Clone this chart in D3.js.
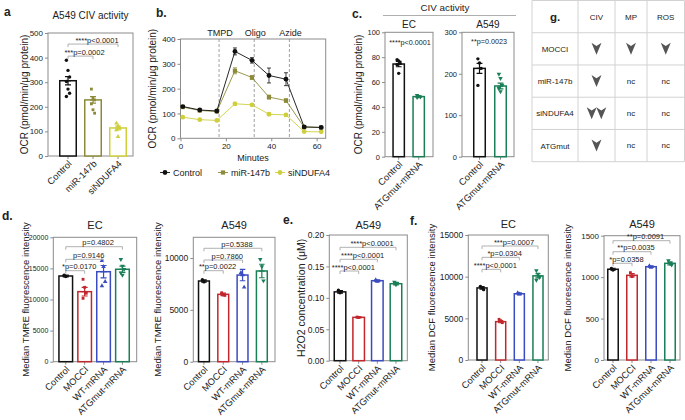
<!DOCTYPE html>
<html>
<head>
<meta charset="utf-8">
<script src="https://cdn.jsdelivr.net/npm/d3@7"></script>
<style>
  body { margin: 0; background: #fff; }
  svg text { font-family: "Liberation Sans", Arial, sans-serif; fill: #222; }
</style>
</head>
<body>
<script>
// ---- a: A549 CIV activity
const aGroups = ["Control", "miR-147b", "siNDUFA4"];
const aMeans = [306, 228, 114];
const aSem = [17, 13, 8];
const aPoints = [[389, 348, 321, 303, 272, 255, 242], [272, 235, 228, 212, 188, 174], [133, 122, 114, 106, 79]];
const aTests = [["Control", "miR-147b", "***p=0.0002"], ["Control", "siNDUFA4", "****p<0.0001"]];

// ---- b: OCR trace
const bMinutes = [1, 8.5, 16, 24, 31.5, 39, 46.5, 54.5, 62];
const bSeries = ["Control", "miR-147b", "siNDUFA4"];
const bControl = [128, 114, 110, 350, 314, 253, 238, 46, 44];
const bControlSem = [4, 3, 4, 14, 11, 30, 26, 4, 3];
const bMir = [126, 112, 108, 272, 245, 166, 152, 45, 43];
const bMirSem = [3, 3, 3, 12, 8, 8, 7, 3, 3];
const bSi = [85, 75, 72, 139, 135, 97, 94, 27, 26];
const bSiSem = [3, 2, 2, 6, 5, 6, 6, 2, 2];
const bInjections = [["TMPD", 17], ["Oligo", 32.5], ["Azide", 48]];

// ---- c: CIV activity, ATGmut
const cGroups = ["Control", "ATGmut-mRNA"];
const cEcMeans = [74.5, 48.3];
const cEcSem = [2.2, 0.6];
const cEcPoints = [[78, 77, 75, 74, 67], [49.3, 48.6, 48, 47.6]];
const cEcTest = "****p<0.0001";
const cA549Means = [213, 170.5];
const cA549Sem = [12, 7];
const cA549Points = [[236, 226, 213, 172], [199, 189, 173, 165, 157]];
const cA549Test = "**p=0.0023";

// ---- d/e/f shared groups
const treatGroups = ["Control", "MOCCI", "WT-mRNA", "ATGmut-mRNA"];

// d: TMRE
const dEcMeans = [13780, 11260, 14470, 14860];
const dEcSem = [150, 700, 1000, 500];
const dEcPoints = [[13900, 13700], [13250, 11960, 11000, 10190], [16240, 15270, 12860, 12170], [16460, 15380, 14860, 14310, 13940]];
const dEcTests = [["Control", "MOCCI", "*p=0.0170"], ["Control", "WT-mRNA", "p=0.9146"], ["Control", "ATGmut-mRNA", "p=0.4802"]];
const dA549Means = [7785, 6500, 8360, 8750];
const dA549Sem = [120, 120, 550, 650];
const dA549Points = [[7900, 7700], [6650, 6450, 6400], [8585, 8360, 7180], [9880, 9170, 7810]];
const dA549Tests = [["Control", "MOCCI", "**p=0.0022"], ["Control", "WT-mRNA", "p=0.7860"], ["Control", "ATGmut-mRNA", "p=0.5388"]];

// e: H2O2
const eMeans = [0.1095, 0.0690, 0.1273, 0.1225];
const eSem = [0.002, 0.0008, 0.0015, 0.002];
const ePoints = [[0.112, 0.108], [0.0695, 0.0688], [0.1285, 0.126], [0.125, 0.121]];
const eTests = [["Control", "MOCCI", "****p<0.0001"], ["Control", "WT-mRNA", "****p<0.0001"], ["Control", "ATGmut-mRNA", "****p<0.0001"]];

// f: DCF
const fEcMeans = [8650, 4600, 7950, 10100];
const fEcSem = [150, 130, 120, 250];
const fEcPoints = [[8840, 8680, 8440], [4880, 4720, 4480], [8050, 7900], [10720, 10320, 9920, 9600]];
const fEcTests = [["Control", "MOCCI", "****p<0.0001"], ["Control", "WT-mRNA", "*p=0.0304"], ["Control", "ATGmut-mRNA", "***p=0.0007"]];
const fA549Means = [1095, 1022, 1126, 1167];
const fA549Sem = [12, 20, 10, 18];
const fA549Points = [[1105, 1085], [1054, 1006], [1135, 1118], [1199, 1167, 1147]];
const fA549Tests = [["Control", "MOCCI", "*p=0.0358"], ["Control", "WT-mRNA", "**p=0.0035"], ["Control", "ATGmut-mRNA", "**p=0.0091"]];

// ---- g: summary table
const gCols = ["CIV", "MP", "ROS"];
const gRows = ["MOCCI", "miR-147b", "siNDUFA4", "ATGmut"];
const gCells = [["down", "down", "down"], ["down", "nc", "nc"], ["down2", "nc", "nc"], ["down", "nc", "nc"]];

const colCtrl = "#111", colMir = "#8d8b3a", colSi = "#cfcf3e";
const colMocci = "#c1272d", colWt = "#3b4cc0", colAtg = "#1a7f57";
const axisCol = "#8c8c8c";

const svg = d3.select("body").append("svg")
    .attr("width", 685)
    .attr("height", 420);

const shapes = {
    circle: d3.symbol().type(d3.symbolCircle).size(9)(),
    square: d3.symbol().type(d3.symbolSquare).size(8)(),
    tri: d3.symbol().type(d3.symbolTriangle).size(9)(),
};

function label(x, y, txt, size, opts = {}) {
    return svg.append("text")
        .attr("x", x).attr("y", y)
        .attr("text-anchor", opts.anchor || "middle")
        .style("font-size", size + "px")
        .style("font-weight", opts.bold ? "bold" : "normal")
        .text(txt);
}

function yLabel(x, yc, txt, size) {
    svg.append("text")
        .attr("transform", `translate(${x},${yc}) rotate(-90)`)
        .attr("text-anchor", "middle")
        .attr("dy", "0.35em")
        .style("font-size", (size || 9.5) + "px")
        .text(txt);
}

function barPanel(p) {
    const g = svg.append("g");
    const y = d3.scaleLinear().domain(p.domain).range([p.bottom, p.top]);
    const x = d3.scaleBand().domain(p.groups).range(p.band)
        .paddingInner(p.pad).paddingOuter(p.pad / 2);
    const bw = x.bandwidth();
    const cx = k => x(k) + bw / 2;

    g.append("rect")
        .attr("x", p.left).attr("y", p.top)
        .attr("width", p.right - p.left).attr("height", p.bottom - p.top)
        .attr("fill", "none").attr("stroke", axisCol);

    const yAxis = g.append("g")
        .attr("transform", `translate(${p.left},0)`)
        .call(d3.axisLeft(y).tickValues(p.ticks).tickSize(3).tickPadding(2)
            .tickFormat(p.fmt || d3.format("d")));
    const xAxis = g.append("g")
        .attr("transform", `translate(0,${p.bottom})`)
        .call(d3.axisBottom(x).tickSize(3));
    xAxis.selectAll("text")
        .attr("x", 0).attr("y", 0).attr("dy", "0.35em")
        .attr("transform", "translate(2,6) rotate(-45)")
        .style("text-anchor", "end")
        .style("font-size", "9.3px");
    yAxis.selectAll("text").style("font-size", (p.tickFont || 7.5) + "px");
    [xAxis, yAxis].forEach(a => {
        a.select(".domain").remove();
        a.selectAll("line").attr("stroke", axisCol);
    });

    const rows = p.groups.map((k, i) => ({
        k, m: p.means[i], s: p.sem[i], pts: p.points[i], c: p.colors[i], sh: p.shapes[i]
    }));

    g.selectAll(".bar").data(rows).join("rect")
        .attr("x", d => cx(d.k) - bw / 2 + 0.75)
        .attr("y", d => y(d.m))
        .attr("width", bw - 1.5)
        .attr("height", d => p.bottom - y(d.m))
        .attr("fill", "white")
        .attr("stroke", d => d.c)
        .attr("stroke-width", 1.5);

    rows.forEach(d => {
        const xc = cx(d.k);
        g.selectAll(null).data(d.pts).join("path")
            .attr("d", shapes[d.sh === "down" ? "tri" : d.sh])
            .attr("transform", (v, i) => `translate(${xc + ((i % 3) - 1) * 1.6},${y(v)})` + (d.sh === "down" ? " rotate(180)" : ""))
            .attr("fill", d.c);
        const cap = Math.min(bw * 0.45, 6);
        g.append("path")
            .attr("d", `M${xc},${y(d.m - d.s)}V${y(d.m + d.s)}M${xc - cap / 2},${y(d.m + d.s)}H${xc + cap / 2}M${xc - cap / 2},${y(d.m - d.s)}H${xc + cap / 2}`)
            .attr("stroke", d.c).attr("stroke-width", 1.2).attr("fill", "none");
        g.append("path")
            .attr("d", `M${xc - cap / 2},${y(d.m)}H${xc + cap / 2}`)
            .attr("stroke", d.c).attr("stroke-width", 1.2);
    });

    (p.tests || []).forEach((t, i) => {
        const x1 = cx(t[0]), x2 = cx(t[1]), yy = y(p.levels[i]);
        g.append("path")
            .attr("d", `M${x1},${yy + 3}V${yy}H${x2}V${yy + 3}`)
            .attr("fill", "none").attr("stroke", "#a8a8a8").attr("stroke-width", 0.9);
        g.append("text")
            .attr("x", (x1 + x2) / 2 + 4).attr("y", yy - 1.5)
            .attr("text-anchor", "middle")
            .style("font-size", (p.testFont || 7.5) + "px")
            .text(t[2]);
    });

    if (p.note) {
        g.append("text")
            .attr("x", (p.left + p.right) / 2 + 1).attr("y", y(p.noteLevel))
            .attr("text-anchor", "middle")
            .style("font-size", "7.2px")
            .text(p.note);
    }

    if (p.title) label((p.left + p.right) / 2, p.titleY, p.title, p.titleSize || 11);
    if (p.ylabel) yLabel(p.ylabelX, (p.top + p.bottom) / 2, p.ylabel, p.ylabelSize);
}

// ===== panel a
label(4, 16, "a", 12, { anchor: "start", bold: true });
barPanel({
    groups: aGroups, means: aMeans, sem: aSem, points: aPoints,
    colors: [colCtrl, colMir, colSi], shapes: ["circle", "square", "tri"],
    left: 48, right: 133, top: 33, bottom: 156, band: [55.5, 130.5], pad: 0.28,
    domain: [0, 500], ticks: [0, 100, 200, 300, 400, 500], tickFont: 8,
    tests: aTests, levels: [406, 455],
    title: "A549 CIV activity", titleY: 19, titleSize: 10,
    ylabel: "OCR (pmol/min/μg protein)", ylabelX: 24, ylabelSize: 10
});

// ===== panel b
label(156, 17, "b.", 12, { anchor: "start", bold: true });
{
    const left = 180.5, right = 325.7, top = 39, bottom = 138.3;
    const x = d3.scaleLinear().domain([0, 64]).range([left, right]);
    const y = d3.scaleLinear().domain([0, 400]).range([bottom, top]);
    const g = svg.append("g");
    g.append("rect").attr("x", left).attr("y", top)
        .attr("width", right - left).attr("height", bottom - top)
        .attr("fill", "none").attr("stroke", axisCol);
    const xa = g.append("g").attr("transform", `translate(0,${bottom})`)
        .call(d3.axisBottom(x).tickValues([0, 20, 40, 60]).tickSize(3).tickPadding(2));
    const ya = g.append("g").attr("transform", `translate(${left},0)`)
        .call(d3.axisLeft(y).tickValues([0, 100, 200, 300, 400]).tickSize(3).tickPadding(2));
    [xa, ya].forEach(a => {
        a.select(".domain").remove();
        a.selectAll("line").attr("stroke", axisCol);
        a.selectAll("text").style("font-size", "8px");
    });

    bInjections.forEach(([name, t]) => {
        g.append("line").attr("x1", x(t)).attr("x2", x(t)).attr("y1", top).attr("y2", bottom)
            .attr("stroke", "#888").attr("stroke-dasharray", "3,2").attr("stroke-width", 0.8);
        g.append("text").attr("x", x(t) + 1).attr("y", top - 3)
            .attr("text-anchor", "middle").style("font-size", "9px").text(name);
    });

    const series = [
        { name: bSeries[0], v: bControl, e: bControlSem, c: colCtrl, sh: "circle" },
        { name: bSeries[1], v: bMir, e: bMirSem, c: colMir, sh: "square" },
        { name: bSeries[2], v: bSi, e: bSiSem, c: colSi, sh: "circle" },
    ];
    const line = d3.line().x((d, i) => x(bMinutes[i])).y(d => y(d));
    const big = {
        circle: d3.symbol().type(d3.symbolCircle).size(18)(),
        square: d3.symbol().type(d3.symbolSquare).size(18)(),
    };
    series.slice().reverse().forEach(s => {
        g.append("path").datum(s.v).attr("d", line)
            .attr("fill", "none").attr("stroke", s.c).attr("stroke-width", 0.9);
        s.v.forEach((v, i) => {
            const xc = x(bMinutes[i]);
            g.append("path")
                .attr("d", `M${xc},${y(v - s.e[i])}V${y(v + s.e[i])}M${xc - 2},${y(v + s.e[i])}H${xc + 2}M${xc - 2},${y(v - s.e[i])}H${xc + 2}`)
                .attr("stroke", s.c).attr("stroke-width", 0.8).attr("fill", "none");
        });
        g.selectAll(null).data(s.v).join("path")
            .attr("d", big[s.sh])
            .attr("transform", (v, i) => `translate(${x(bMinutes[i])},${y(v)})`)
            .attr("fill", s.c);
    });

    label((left + right) / 2, 161, "Minutes", 9);

    const lx = [165, 223, 280];
    series.forEach((s, i) => {
        g.append("line").attr("x1", lx[i] - 5).attr("x2", lx[i] + 5).attr("y1", 172.5).attr("y2", 172.5)
            .attr("stroke", s.c).attr("stroke-width", 0.9);
        g.append("path").attr("d", big[s.sh]).attr("transform", `translate(${lx[i]},172.5)`).attr("fill", s.c);
        label(lx[i] + 8, 175.8, s.name, 9, { anchor: "start" });
    });
    yLabel(152, (top + bottom) / 2, "OCR (pmol/min/μg protein)", 10);
}

// ===== panel c
label(352, 18, "c.", 12, { anchor: "start", bold: true });
label(445, 11, "CIV activity", 9.8);
svg.append("line").attr("x1", 383).attr("x2", 516).attr("y1", 15.5).attr("y2", 15.5)
    .attr("stroke", "#999").attr("stroke-width", 0.8);
barPanel({
    groups: cGroups, means: cEcMeans, sem: cEcSem, points: cEcPoints,
    colors: [colCtrl, colAtg], shapes: ["circle", "down"],
    left: 385, right: 433, top: 32.3, bottom: 156.7, band: [388.7, 428.7], pad: 0.36,
    domain: [0, 100], ticks: [0, 20, 40, 60, 80, 100], tickFont: 7.5,
    note: cEcTest, noteLevel: 90,
    title: "EC", titleY: 27.5, titleSize: 10,
    ylabel: "OCR (pmol/min/μg protein)", ylabelX: 358, ylabelSize: 10
});
barPanel({
    groups: cGroups, means: cA549Means, sem: cA549Sem, points: cA549Points,
    colors: [colCtrl, colAtg], shapes: ["circle", "down"],
    left: 462, right: 514, top: 32.3, bottom: 156.7, band: [469, 511], pad: 0.38,
    domain: [0, 300], ticks: [0, 100, 200, 300], tickFont: 7.5,
    note: cA549Test, noteLevel: 272,
    title: "A549", titleY: 27.5, titleSize: 10
});

// ===== panel g (table)
{
    const colEdges = [532, 578, 615, 647, 684.5];
    const rowY = d3.scaleBand().domain(["head", ...gRows]).range([0.5, 161.7]);
    const g = svg.append("g");
    const gridCol = "#d2d2d2";
    colEdges.forEach(cx => g.append("line").attr("x1", cx).attr("x2", cx)
        .attr("y1", 0.5).attr("y2", 161.7).attr("stroke", gridCol));
    rowY.domain().forEach(r => g.append("line").attr("x1", colEdges[0]).attr("x2", colEdges[4])
        .attr("y1", rowY(r)).attr("y2", rowY(r)).attr("stroke", gridCol));
    g.append("line").attr("x1", colEdges[0]).attr("x2", colEdges[4])
        .attr("y1", 161.7).attr("y2", 161.7).attr("stroke", gridCol);

    const mid = i => (colEdges[i] + colEdges[i + 1]) / 2;
    const rc = r => rowY(r) + rowY.bandwidth() / 2;
    label(mid(0), rc("head") + 4, "g.", 11.5, { bold: true });
    gCols.forEach((c, j) => label(mid(j + 1), rc("head") + 3, c, 8));
    const chev = "M-5,-6L0,-2.8L5,-6L0,6Z";
    gRows.forEach((r, i) => {
        label(mid(0), rc(r) + 3, r, 8);
        gCells[i].forEach((v, j) => {
            const xc = mid(j + 1), yc = rc(r);
            if (v === "nc") label(xc, yc + 2.5, "nc", 8);
            else {
                const offs = v === "down2" ? [-4.8, 4.8] : [0];
                offs.forEach(o => g.append("path").attr("d", chev)
                    .attr("transform", `translate(${xc + o},${yc})`).attr("fill", "#555"));
            }
        });
    });
}

// ===== panel d
label(2, 220, "d.", 12, { anchor: "start", bold: true });
const treatColors = [colCtrl, colMocci, colWt, colAtg];
const treatShapes = ["circle", "square", "tri", "down"];
barPanel({
    groups: treatGroups, means: dEcMeans, sem: dEcSem, points: dEcPoints,
    colors: treatColors, shapes: treatShapes,
    left: 53.3, right: 136.7, top: 237.3, bottom: 361.7, band: [56.3, 131.9], pad: 0.2,
    domain: [0, 20000], ticks: [0, 5000, 10000, 15000, 20000], tickFont: 7,
    tests: dEcTests, levels: [14630, 16460, 18490],
    title: "EC", titleY: 228.5,
    ylabel: "Median TMRE fluorescence intensity", ylabelX: 26
});
barPanel({
    groups: treatGroups, means: dA549Means, sem: dA549Sem, points: dA549Points,
    colors: treatColors, shapes: treatShapes,
    left: 193.3, right: 275, top: 237.3, bottom: 361.7, band: [194.3, 271.5], pad: 0.36,
    domain: [0, 12000], ticks: [0, 5000, 10000], tickFont: 8.5,
    tests: dA549Tests, levels: [8780, 9810, 10940],
    title: "A549", titleY: 228.5,
    ylabel: "Median TMRE fluorescence intensity", ylabelX: 158
});

// ===== panel e
label(283, 224, "e.", 12, { anchor: "start", bold: true });
barPanel({
    groups: treatGroups, means: eMeans, sem: eSem, points: ePoints,
    colors: treatColors, shapes: treatShapes,
    left: 329.3, right: 407.3, top: 235, bottom: 360.7, band: [330.7, 405.3], pad: 0.3,
    domain: [0, 0.2], ticks: [0, 0.05, 0.1, 0.15, 0.2], fmt: d3.format(".2f"), tickFont: 8.5,
    tests: eTests, levels: [0.1427, 0.1613, 0.1804],
    title: "A549", titleY: 228.5,
    ylabel: "H2O2 concentration (μM)", ylabelX: 301, ylabelSize: 10.5
});

// ===== panel f
label(410, 225, "f.", 12, { anchor: "start", bold: true });
barPanel({
    groups: treatGroups, means: fEcMeans, sem: fEcSem, points: fEcPoints,
    colors: treatColors, shapes: treatShapes,
    left: 468.3, right: 548.3, top: 235, bottom: 360, band: [472.7, 547.3], pad: 0.38,
    domain: [0, 15000], ticks: [0, 5000, 10000, 15000], tickFont: 8.5,
    tests: fEcTests, levels: [10880, 12320, 13680],
    title: "EC", titleY: 228,
    ylabel: "Median DCF fluorescence intensity", ylabelX: 432
});
barPanel({
    groups: treatGroups, means: fA549Means, sem: fA549Sem, points: fA549Points,
    colors: treatColors, shapes: treatShapes,
    left: 604, right: 680, top: 235.7, bottom: 360, band: [603.5, 679.5], pad: 0.37,
    domain: [0, 1500], ticks: [0, 500, 1000, 1500], tickFont: 8,
    tests: fA549Tests, levels: [1167, 1307, 1440],
    title: "A549", titleY: 228,
    ylabel: "Median DCF fluorescence intensity", ylabelX: 568
});
</script>
</body>
</html>
